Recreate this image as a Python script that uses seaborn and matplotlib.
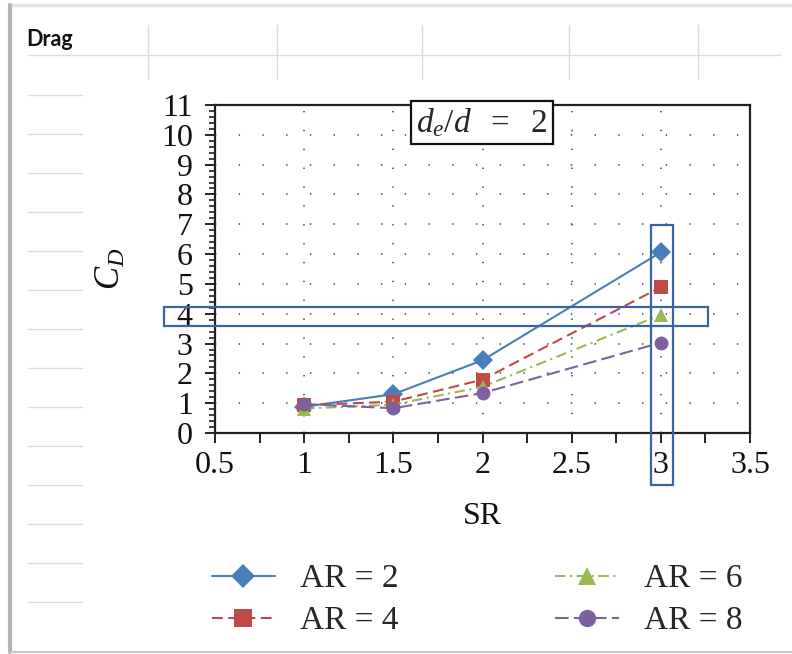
import matplotlib
matplotlib.use("Agg")
import matplotlib.pyplot as plt
from matplotlib.lines import Line2D
from matplotlib.patches import Rectangle
from matplotlib.ticker import MultipleLocator
import numpy as np
import pandas as pd
import seaborn as sns

# ---- data ---------------------------------------------------------------
sr = [1.0, 1.5, 2.0, 3.0]
cd_ar2 = [0.88, 1.30, 2.44, 6.06]
cd_ar4 = [0.93, 1.05, 1.79, 4.89]
cd_ar6 = [0.82, 0.95, 1.55, 3.96]
cd_ar8 = [0.97, 0.83, 1.34, 3.03]
series_labels = ["AR = 2", "AR = 4", "AR = 6", "AR = 8"]
x_ticks = [0.5, 1.0, 1.5, 2.0, 2.5, 3.0, 3.5]
x_tick_labels = ["0.5", "1", "1.5", "2", "2.5", "3", "3.5"]
y_ticks = list(range(0, 12))

df = pd.concat(
    [pd.DataFrame({"SR": sr, "CD": v, "series": lab})
     for v, lab in zip([cd_ar2, cd_ar4, cd_ar6, cd_ar8], series_labels)],
    ignore_index=True,
)

palette = {"AR = 2": "#4a7ebb", "AR = 4": "#be4b48",
           "AR = 6": "#98b954", "AR = 8": "#7d60a0"}
markers = {"AR = 2": "D", "AR = 4": "s", "AR = 6": "^", "AR = 8": "o"}
dashes = {"AR = 2": "", "AR = 4": (5.2, 2.6), "AR = 6": (5, 2.2, 1, 2.2),
          "AR = 8": (6.5, 2.6)}

# ---- figure ---------------------------------------------------------------
sns.set_theme(style="white")
plt.rcParams["font.family"] = ["Liberation Serif", "DejaVu Serif"]
plt.rcParams["mathtext.fontset"] = "custom"
plt.rcParams["mathtext.rm"] = "Liberation Serif"
plt.rcParams["mathtext.it"] = "Liberation Serif:italic"

W, H = 792, 654
fig = plt.figure(figsize=(W / 100, H / 100), dpi=100)
fig.patch.set_facecolor("white")


def fx(px):
    return px / W


def fy(py):
    return 1 - py / H


# worksheet frame and cell lines behind the chart
cell_grey = "#dcdcdc"
fig.add_artist(Line2D([fx(10), fx(792)], [fy(5), fy(5)], color="#e2e2e2", lw=2.5))
fig.add_artist(Line2D([fx(10), fx(10)], [fy(5), fy(652)], color="#b4b4b4", lw=3))
fig.add_artist(Line2D([fx(10), fx(792)], [fy(652), fy(652)], color="#c8c8c8", lw=1.5))
fig.add_artist(Line2D([fx(28), fx(780)], [fy(55), fy(55)], color=cell_grey, lw=1))
for px in [148, 277, 422, 569, 698]:
    fig.add_artist(Line2D([fx(px), fx(px)], [fy(25), fy(79)], color=cell_grey, lw=1))
for k in range(14):
    py = 94.6 + 39.0 * k
    fig.add_artist(Line2D([fx(28), fx(82)], [fy(py), fy(py)], color=cell_grey, lw=1))
fig.text(fx(26), fy(39), "Drag", fontsize=15.5, fontweight="bold",
         family=["Lato", "DejaVu Sans"], color="#111111", va="center", ha="left")

# ---- chart ---------------------------------------------------------------
ax = fig.add_axes([fx(215), fy(433), (750 - 215) / W, (433 - 105) / H])
ax.set_facecolor("white")

sns.lineplot(data=df, x="SR", y="CD", hue="series", style="series",
             palette=palette, markers=markers, dashes=dashes, ax=ax,
             lw=1.5, markersize=10, markeredgewidth=0, zorder=3)

ax.set_xlim(0.5, 3.5)
ax.set_ylim(0, 11)
ax.set_xticks(x_ticks)
ax.set_xticklabels(x_tick_labels)
ax.xaxis.set_minor_locator(MultipleLocator(0.25))
ax.set_yticks(y_ticks)
ax.yaxis.set_minor_locator(MultipleLocator(0.2))

ax.tick_params(axis="both", which="both", direction="out", colors="#222222",
               labelsize=23, labelcolor="#111111")
ax.tick_params(axis="x", which="major", length=7, width=1.4, pad=6)
ax.tick_params(axis="x", which="minor", length=7, width=1.4)
ax.tick_params(axis="y", which="major", length=7, width=1.4, pad=9)
ax.tick_params(axis="y", which="minor", length=4.5, width=1.2)
ax.tick_params(axis="y", which="both", left=True)
ax.tick_params(axis="x", which="both", bottom=True)

for s in ax.spines.values():
    s.set_visible(True)
    s.set_color("#222222")
    s.set_linewidth(1.6)

# dotted grid
for yv in range(1, 11):
    ax.axhline(yv, color="#666666", lw=1.4, ls=(0, (0.7, 11.5)), zorder=1)
for xv in [1.0, 1.5, 2.0, 2.5, 3.0]:
    ax.axvline(xv, color="#666666", lw=1.4, ls=(0, (0.7, 9)), zorder=1)

ax.set_xlabel("SR", fontsize=23, labelpad=16, color="#111111")
ax.set_ylabel("$C_D$", fontsize=25, labelpad=24, color="#111111")

ax.text(0.5 + (482 - 215) / 178.3, 10.4, r"$d_e/d\ \ =\ \ 2$", fontsize=24,
        ha="center", va="center", zorder=5,
        bbox=dict(boxstyle="square,pad=0.15", fc="white", ec="#111111", lw=1.6))

# highlight boxes
hl = "#3b62a6"
ax.add_patch(Rectangle((2.943, -1.75), 0.128, 8.73, fill=False, ec=hl, lw=1.6,
                       clip_on=False, zorder=6))
ax.add_patch(Rectangle((0.214, 3.59), 3.05, 0.64, fill=False, ec=hl, lw=1.6,
                       clip_on=False, zorder=6))

sns.move_legend(ax, "center", bbox_to_anchor=(fx(477), fy(600)),
                bbox_transform=fig.transFigure, ncol=2, title=None,
                frameon=False, fontsize=24, markerscale=1.25,
                handlelength=1.9, handletextpad=0.75, columnspacing=4.7,
                labelspacing=0.35)

fig.savefig("out.png", dpi=100, facecolor="white")
